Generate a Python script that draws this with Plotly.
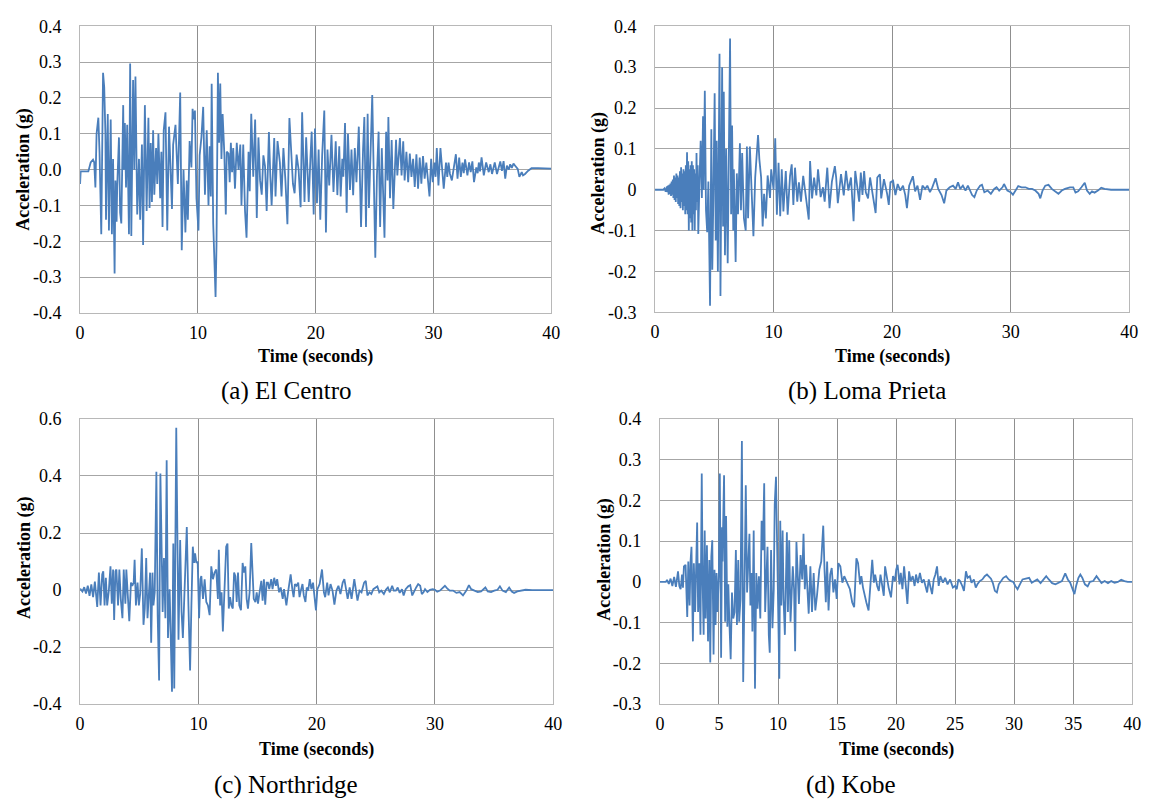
import plotly.graph_objects as go

# ---------------- data (time s, acceleration g) ----------------
elcentro = [
    (0.0, -0.04), (0.05, -0.005), (0.7, -0.005), (0.9, 0.02), (1.1, 0.028), (1.2, 0.02), (1.3, -0.05),
    (1.4, 0.1), (1.55, 0.145), (1.65, 0.05), (1.8, -0.18), (1.95, 0.27), (2.05, 0.23), (2.15, 0.1),
    (2.2, -0.14), (2.35, 0.155), (2.45, -0.17), (2.6, 0.14), (2.7, -0.18), (2.8, 0.03), (2.93, -0.29),
    (3.0, -0.03), (3.1, -0.145), (3.15, -0.05), (3.3, 0.09), (3.4, -0.12), (3.5, -0.15), (3.66, 0.18),
    (3.72, 0.0), (3.8, 0.13), (3.9, -0.05), (4.0, 0.125), (4.15, -0.18), (4.25, 0.296), (4.35, -0.185),
    (4.5, 0.25), (4.6, 0.0), (4.7, 0.26), (4.85, -0.125), (5.0, 0.03), (5.1, -0.14), (5.25, 0.07),
    (5.35, -0.21), (5.5, 0.18), (5.65, -0.115), (5.8, 0.145), (5.9, -0.107), (6.0, 0.074), (6.1, -0.09),
    (6.2, 0.11), (6.3, -0.07), (6.45, 0.06), (6.55, -0.04), (6.65, 0.1), (6.8, -0.08), (6.9, 0.05),
    (7.0, -0.16), (7.1, 0.11), (7.25, 0.16), (7.4, -0.17), (7.55, 0.12), (7.7, -0.02), (7.8, -0.11),
    (7.9, 0.07), (8.1, 0.125), (8.3, -0.04), (8.5, 0.215), (8.63, -0.225), (8.78, 0.0), (8.94, -0.175),
    (9.05, -0.03), (9.15, -0.14), (9.3, 0.08), (9.45, 0.006), (9.55, 0.17), (9.65, 0.14), (9.75, 0.165),
    (9.88, -0.08), (10.05, -0.17), (10.15, 0.04), (10.3, 0.09), (10.45, 0.175), (10.6, -0.07),
    (10.75, 0.11), (10.9, -0.1), (11.0, 0.065), (11.1, -0.075), (11.17, 0.24), (11.3, -0.15),
    (11.5, -0.355), (11.58, -0.21), (11.7, 0.27), (11.8, 0.075), (11.9, 0.24), (12.0, 0.03),
    (12.1, 0.155), (12.25, 0.04), (12.37, -0.125), (12.45, 0.05), (12.6, 0.045), (12.7, -0.035),
    (12.8, 0.075), (12.9, -0.007), (13.0, 0.06), (13.15, -0.053), (13.3, 0.075), (13.45, -0.001),
    (13.6, 0.07), (13.7, -0.1), (13.85, 0.07), (14.0, -0.115), (14.13, -0.19), (14.3, 0.05),
    (14.4, -0.06), (14.53, 0.156), (14.7, -0.02), (14.86, 0.14), (15.0, -0.135), (15.14, 0.09),
    (15.28, -0.03), (15.42, -0.07), (15.56, 0.04), (15.7, 0.01), (15.84, -0.115), (16.03, 0.105),
    (16.15, -0.02), (16.26, -0.1), (16.48, 0.088), (16.59, -0.075), (16.76, 0.08), (16.96, 0.02),
    (17.1, -0.075), (17.26, 0.06), (17.43, -0.03), (17.6, -0.152), (17.77, 0.144), (17.93, 0.03),
    (18.07, -0.04), (18.21, -0.066), (18.38, 0.042), (18.55, 0.0), (18.72, -0.105), (18.85, 0.16),
    (19.05, -0.09), (19.19, 0.09), (19.3, -0.02), (19.41, -0.09), (19.55, 0.03), (19.66, 0.106),
    (19.83, -0.125), (19.94, 0.115), (20.11, -0.094), (20.25, 0.056), (20.39, -0.14), (20.55, 0.04),
    (20.73, 0.165), (20.87, -0.175), (21.0, 0.056), (21.15, -0.044), (21.34, 0.097), (21.51, -0.062),
    (21.7, 0.079), (21.84, -0.071), (22.0, 0.065), (22.12, -0.075), (22.26, 0.03), (22.35, -0.02),
    (22.49, 0.13), (22.63, -0.12), (22.74, 0.1), (22.91, -0.057), (23.04, 0.056), (23.18, -0.071),
    (23.32, 0.06), (23.46, -0.035), (23.66, 0.12), (23.85, -0.16), (24.02, 0.056), (24.13, 0.147),
    (24.27, -0.16), (24.41, 0.156), (24.52, -0.107), (24.64, 0.011), (24.8, 0.208), (25.06, -0.246),
    (25.2, -0.016), (25.34, 0.106), (25.47, -0.16), (25.61, 0.06), (25.84, -0.19), (25.98, 0.106),
    (26.1, -0.03), (26.17, 0.147), (26.31, -0.08), (26.45, 0.083), (26.59, -0.11), (26.82, 0.083),
    (26.93, -0.016), (27.15, 0.088), (27.29, -0.016), (27.43, 0.079), (27.55, -0.03), (27.7, 0.05),
    (27.85, -0.035), (27.99, 0.045), (28.13, -0.02), (28.27, 0.03), (28.41, -0.048), (28.55, 0.043),
    (28.69, -0.053), (28.83, 0.034), (28.97, -0.039), (29.11, 0.038), (29.25, -0.025), (29.39, 0.02),
    (29.52, -0.03), (29.66, -0.075), (29.8, 0.03), (29.94, -0.035), (30.08, 0.02), (30.18, -0.02),
    (30.28, 0.06), (30.42, -0.044), (30.59, 0.06), (30.73, -0.007), (30.87, -0.053), (31.06, 0.02),
    (31.17, -0.02), (31.28, 0.02), (31.4, -0.012), (31.56, -0.03), (31.75, 0.01), (31.9, 0.043),
    (32.04, -0.025), (32.18, 0.034), (32.32, -0.02), (32.46, 0.02), (32.57, -0.01), (32.68, 0.029),
    (32.88, -0.016), (33.02, 0.02), (33.16, -0.007), (33.3, 0.023), (33.44, -0.035), (33.63, 0.006),
    (33.75, -0.01), (33.85, 0.02), (33.95, -0.005), (34.08, 0.034), (34.27, -0.016), (34.47, 0.02),
    (34.69, -0.007), (34.83, 0.015), (34.97, -0.012), (35.2, 0.02), (35.39, -0.012), (35.67, 0.023),
    (35.81, -0.003), (35.95, 0.024), (36.09, -0.025), (36.23, 0.011), (36.4, 0.0), (36.51, 0.015),
    (36.65, 0.005), (36.79, 0.017), (36.93, 0.011), (37.15, 0.002), (37.29, -0.02), (37.49, -0.007),
    (37.6, -0.016), (37.77, -0.012), (38.04, -0.003), (38.32, 0.004), (38.88, 0.004), (40.0, 0.003),
]

lomaprieta = [
    (0.0, 0.0), (0.7, 0.0), (0.8, 0.003), (0.9, -0.005), (1.0, 0.008), (1.05, -0.006), (1.1, 0.01),
    (1.15, -0.012), (1.2, 0.012), (1.25, -0.01), (1.3, 0.015), (1.35, -0.015), (1.4, 0.02),
    (1.45, -0.012), (1.5, 0.025), (1.55, -0.02), (1.6, 0.035), (1.65, -0.025), (1.7, 0.03),
    (1.75, -0.03), (1.8, 0.04), (1.85, -0.02), (1.9, 0.035), (1.95, -0.035), (2.0, 0.03),
    (2.05, -0.04), (2.1, 0.045), (2.15, -0.045), (2.2, 0.055), (2.25, -0.03), (2.3, 0.04),
    (2.35, -0.05), (2.4, 0.05), (2.45, -0.04), (2.5, 0.045), (2.55, -0.06), (2.6, 0.06),
    (2.65, -0.05), (2.7, 0.092), (2.75, -0.06), (2.8, 0.07), (2.85, -0.1), (2.9, 0.05), (2.95, -0.07),
    (3.0, 0.06), (3.05, -0.08), (3.1, 0.07), (3.15, -0.1), (3.2, 0.06), (3.25, -0.06), (3.3, 0.05),
    (3.35, -0.1), (3.4, 0.04), (3.45, -0.05), (3.5, 0.09), (3.55, -0.03), (3.6, 0.06), (3.65, -0.108),
    (3.75, 0.02), (3.85, 0.12), (3.95, -0.02),
    (4.05, 0.18), (4.1, 0.0), (4.2, 0.242), (4.3, -0.05), (4.4, -0.104), (4.5, 0.02), (4.64, -0.284),
    (4.75, 0.148), (4.83, -0.196), (4.92, -0.02), (5.03, 0.236), (5.12, -0.124), (5.2, 0.12),
    (5.3, -0.2), (5.44, 0.333), (5.52, -0.26), (5.6, 0.05), (5.66, 0.3), (5.74, -0.09), (5.8, 0.24),
    (5.9, -0.16), (6.0, 0.1), (6.13, -0.18), (6.22, 0.06), (6.33, 0.37), (6.42, -0.06), (6.5, 0.157),
    (6.6, -0.1), (6.65, 0.05), (6.8, -0.177), (6.9, 0.04), (7.0, -0.06), (7.16, 0.114), (7.25, -0.05),
    (7.35, 0.09), (7.5, -0.07), (7.65, -0.1), (7.75, 0.106), (7.85, -0.07), (8.0, 0.106), (8.1, 0.035),
    (8.3, -0.114), (8.45, 0.03), (8.6, 0.09), (8.69, 0.134), (8.8, 0.075), (8.95, 0.03), (9.08, -0.09),
    (9.2, -0.01), (9.35, -0.07), (9.5, 0.035), (9.7, -0.02), (9.8, 0.05), (10.0, 0.0), (10.14, 0.126),
    (10.28, -0.061), (10.42, 0.066), (10.56, -0.065), (10.69, 0.05), (10.83, -0.053), (11.03, 0.046),
    (11.19, -0.061), (11.39, 0.034), (11.53, 0.062), (11.67, -0.037), (11.81, 0.054), (12.0, -0.029),
    (12.14, 0.018), (12.31, -0.029), (12.5, 0.034), (12.69, -0.014), (12.83, -0.041), (12.97, -0.073),
    (13.08, 0.07), (13.25, -0.021), (13.42, 0.03), (13.61, -0.014), (13.75, 0.05), (13.97, -0.018),
    (14.17, 0.006), (14.31, -0.029), (14.53, 0.054), (14.72, -0.045), (14.92, 0.02), (15.17, 0.058),
    (15.28, 0.03), (15.42, -0.033), (15.69, 0.038), (15.92, -0.014), (16.11, 0.046), (16.31, -0.002),
    (16.53, 0.03), (16.75, -0.077), (16.89, 0.046), (17.08, -0.006), (17.22, -0.029), (17.36, 0.042),
    (17.5, -0.013), (17.64, 0.046), (17.78, -0.006), (17.97, -0.021), (18.14, 0.03), (18.33, -0.006),
    (18.47, -0.037), (18.61, -0.057), (18.75, 0.03), (18.97, 0.038), (19.08, -0.021), (19.31, 0.026),
    (19.58, -0.01), (19.72, -0.037), (19.86, 0.018), (20.08, 0.022), (20.28, -0.013), (20.47, 0.014),
    (20.69, -0.002), (20.92, 0.01), (21.11, -0.013), (21.25, -0.045), (21.44, 0.01), (21.75, 0.033),
    (21.94, -0.004), (22.14, 0.01), (22.36, -0.025), (22.56, 0.01), (22.78, 0.002), (22.97, 0.01),
    (23.19, -0.006), (23.39, 0.006), (23.67, 0.028), (23.89, 0.002), (24.17, -0.013), (24.39, -0.033),
    (24.58, -0.002), (24.86, 0.006), (25.14, 0.01), (25.36, 0.002), (25.56, 0.018), (25.75, 0.002),
    (25.97, 0.01), (26.19, -0.002), (26.39, 0.01), (26.53, 0.002), (26.75, -0.013), (26.94, -0.018),
    (27.14, -0.002), (27.42, 0.01), (27.58, 0.012), (27.78, -0.006), (28.06, -0.002), (28.33, -0.01),
    (28.61, 0.002), (28.81, 0.006), (29.03, -0.002), (29.31, 0.006), (29.44, 0.014), (29.72, -0.002),
    (30.0, -0.006), (30.19, -0.012), (30.42, -0.002), (30.64, 0.009), (30.92, 0.006), (31.25, 0.006),
    (31.53, 0.002), (31.81, 0.002), (32.08, -0.002), (32.36, -0.01), (32.5, -0.021), (32.69, -0.002),
    (32.92, 0.01), (33.19, 0.012), (33.47, 0.002), (33.75, -0.004), (34.03, -0.01), (34.31, -0.002),
    (34.58, 0.002), (35.0, 0.006), (35.28, 0.006), (35.47, -0.007), (35.69, -0.004), (35.97, 0.006),
    (36.25, 0.017), (36.44, -0.002), (36.67, -0.01), (36.86, -0.004), (37.08, -0.007), (37.36, -0.002),
    (37.64, 0.005), (37.92, 0.002), (38.47, 0.0), (40.0, 0.0),
]

northridge = [
    (0.0, 0.005), (0.2, -0.005), (0.35, 0.01), (0.5, -0.012), (0.65, 0.015), (0.8, -0.02), (0.95, 0.02),
    (1.1, -0.025), (1.25, 0.03), (1.35, -0.01), (1.45, -0.059), (1.59, 0.061), (1.73, -0.054),
    (1.87, 0.055), (1.96, 0.066), (2.07, -0.054), (2.18, 0.043), (2.29, -0.054), (2.43, -0.002),
    (2.57, 0.083), (2.68, -0.048), (2.79, 0.072), (2.88, -0.105), (2.99, 0.066), (3.07, 0.072),
    (3.21, -0.054), (3.32, 0.072), (3.44, -0.031), (3.58, -0.099), (3.69, 0.072), (3.83, -0.048),
    (3.91, 0.072), (4.02, -0.008), (4.16, -0.109), (4.3, 0.026), (4.41, 0.015), (4.53, 0.026),
    (4.61, 0.106), (4.72, -0.054), (4.86, 0.026), (4.97, -0.054), (5.08, -0.014), (5.22, 0.146),
    (5.36, -0.122), (5.47, -0.065), (5.59, 0.112), (5.7, -0.099), (5.81, -0.008), (5.92, 0.061),
    (6.01, -0.185), (6.12, 0.061), (6.2, -0.054), (6.31, -0.008), (6.45, 0.415), (6.56, -0.088),
    (6.68, -0.317), (6.79, 0.409), (6.9, 0.129), (6.98, -0.077), (7.09, 0.112), (7.21, -0.099),
    (7.32, 0.455), (7.43, -0.168), (7.57, 0.003), (7.68, -0.237), (7.77, -0.357), (7.88, 0.163),
    (7.96, -0.345), (8.13, 0.569), (8.24, 0.038), (8.32, -0.174), (8.46, 0.175), (8.58, -0.077),
    (8.69, -0.168), (8.83, -0.008), (9.02, 0.221), (9.16, -0.054), (9.3, -0.282), (9.41, -0.054),
    (9.53, 0.152), (9.64, 0.095), (9.72, 0.129), (9.83, 0.095), (9.94, 0.1), (10.06, -0.099),
    (10.17, 0.038), (10.25, 0.049), (10.39, -0.031), (10.53, 0.038), (10.67, -0.042), (10.81, -0.054),
    (10.95, -0.088), (11.09, 0.083), (11.23, 0.038), (11.37, 0.061), (11.51, 0.072), (11.65, -0.031),
    (11.73, 0.141), (11.84, -0.054), (11.96, -0.008), (12.07, -0.145), (12.21, -0.008), (12.35, 0.152),
    (12.46, 0.163), (12.57, -0.065), (12.68, -0.025), (12.79, -0.054), (12.91, -0.065), (13.02, 0.061),
    (13.13, 0.049), (13.24, -0.042), (13.35, 0.061), (13.46, -0.054), (13.6, -0.071), (13.74, 0.095),
    (13.85, 0.061), (13.97, 0.083), (14.08, -0.031), (14.19, -0.065), (14.33, -0.008), (14.47, 0.165),
    (14.68, -0.031), (14.82, -0.042), (14.93, -0.008), (15.04, -0.048), (15.15, -0.014), (15.32, 0.032),
    (15.43, -0.037), (15.54, 0.038), (15.65, -0.051), (15.77, 0.026), (15.88, 0.026), (15.99, 0.003),
    (16.16, 0.038), (16.27, 0.003), (16.41, 0.043), (16.55, 0.015), (16.66, 0.038), (16.82, -0.008),
    (16.96, 0.009), (17.13, -0.031), (17.24, 0.003), (17.44, -0.054), (17.6, -0.002), (17.8, 0.055),
    (17.94, 0.003), (18.05, -0.025), (18.16, 0.021), (18.3, 0.015), (18.44, 0.026), (18.55, -0.025),
    (18.66, -0.002), (18.8, 0.021), (18.91, -0.019), (19.05, -0.042), (19.16, 0.009), (19.28, -0.002),
    (19.42, 0.038), (19.55, 0.003), (19.69, 0.026), (19.83, -0.025), (19.94, -0.071), (20.06, 0.003),
    (20.25, 0.021), (20.45, 0.072), (20.61, -0.008), (20.72, -0.025), (20.89, 0.026), (21.0, -0.019),
    (21.17, 0.021), (21.34, -0.002), (21.5, -0.051), (21.67, -0.002), (21.84, 0.015), (22.01, -0.014),
    (22.2, 0.026), (22.34, 0.038), (22.51, -0.014), (22.62, -0.031), (22.79, 0.009), (22.95, -0.031),
    (23.18, 0.038), (23.31, -0.008), (23.45, -0.037), (23.62, -0.002), (23.79, -0.008), (24.01, 0.026),
    (24.15, 0.032), (24.29, -0.019), (24.46, -0.008), (24.62, -0.014), (24.79, 0.003), (24.99, 0.009),
    (25.13, 0.013), (25.29, -0.008), (25.46, -0.002), (25.68, -0.014), (25.85, 0.001), (26.02, 0.009),
    (26.18, -0.008), (26.38, 0.015), (26.52, -0.002), (26.69, -0.002), (26.85, 0.009), (27.02, -0.01),
    (27.21, 0.003), (27.35, -0.019), (27.52, 0.003), (27.74, 0.013), (27.91, 0.017), (28.08, -0.019),
    (28.25, -0.002), (28.41, 0.009), (28.58, 0.021), (28.75, 0.015), (28.89, -0.014), (29.03, -0.008),
    (29.16, 0.003), (29.36, -0.007), (29.58, 0.001), (29.81, 0.003), (30.0, 0.001), (30.19, -0.006),
    (30.42, -0.002), (30.64, 0.009), (30.84, 0.015), (31.03, 0.006), (31.25, -0.002), (31.53, -0.002),
    (31.81, -0.01), (32.09, -0.007), (32.37, -0.019), (32.65, -0.002), (32.87, 0.017), (33.06, 0.003),
    (33.34, -0.002), (33.62, -0.007), (33.9, -0.005), (34.26, 0.009), (34.46, -0.005), (34.74, -0.007),
    (35.01, -0.002), (35.29, 0.001), (35.49, 0.013), (35.71, -0.002), (35.99, -0.007), (36.27, 0.009),
    (36.49, -0.005), (36.69, -0.01), (36.96, -0.005), (37.24, -0.002), (37.66, 0.001), (38.22, 0.0),
    (38.77, 0.0), (40.0, 0.0),
]

kobe = [
    (0.0, 0.0), (0.5, 0.0), (0.6, 0.005), (0.75, -0.005), (0.9, 0.008), (1.05, -0.01), (1.2, 0.012),
    (1.35, -0.012), (1.53, 0.026), (1.64, -0.01), (1.75, -0.018), (1.87, 0.018), (1.95, -0.014),
    (2.03, 0.038), (2.17, 0.042), (2.31, -0.086), (2.4, 0.05), (2.51, -0.058), (2.59, 0.05),
    (2.67, 0.086), (2.79, -0.146), (2.87, 0.046), (2.98, -0.074), (3.06, 0.054), (3.15, 0.146),
    (3.23, -0.074), (3.34, 0.046), (3.43, -0.13), (3.54, 0.266), (3.62, -0.01), (3.7, -0.13),
    (3.79, 0.126), (3.87, -0.09), (3.98, 0.09), (4.07, -0.146), (4.18, 0.054), (4.26, -0.198),
    (4.35, 0.062), (4.43, 0.102), (4.54, -0.178), (4.62, 0.03), (4.71, -0.106), (4.79, 0.022),
    (4.87, -0.074), (4.99, 0.022), (5.07, 0.266), (5.18, -0.186), (5.26, 0.134), (5.3, 0.05),
    (5.35, 0.138), (5.43, 0.262), (5.52, -0.098), (5.6, 0.162), (5.71, -0.11), (5.79, -0.006),
    (5.88, -0.098), (5.99, -0.19), (6.1, -0.026), (6.21, -0.09), (6.32, -0.074), (6.43, 0.078),
    (6.52, -0.106), (6.63, 0.054), (6.71, -0.098), (6.82, -0.042), (6.94, 0.346), (7.05, -0.246),
    (7.16, -0.022), (7.27, 0.237), (7.38, -0.026), (7.47, 0.038), (7.58, 0.118), (7.66, -0.058),
    (7.77, 0.022), (7.83, -0.122), (7.94, 0.126), (8.05, -0.262), (8.16, 0.022), (8.27, -0.066),
    (8.38, 0.014), (8.5, -0.09), (8.61, 0.15), (8.72, 0.078), (8.83, 0.242), (8.91, -0.074),
    (9.03, 0.006), (9.11, 0.086), (9.22, -0.13), (9.3, -0.174), (9.41, 0.078), (9.53, -0.114),
    (9.64, -0.018), (9.72, 0.19), (9.83, 0.258), (9.94, 0.018), (10.03, -0.042), (10.11, -0.238),
    (10.19, 0.15), (10.28, -0.058), (10.39, 0.126), (10.47, -0.042), (10.58, -0.13), (10.67, 0.022),
    (10.75, 0.122), (10.84, -0.074), (10.95, 0.102), (11.06, -0.098), (11.17, -0.026), (11.25, 0.038),
    (11.36, -0.018), (11.45, -0.17), (11.56, 0.098), (11.77, -0.054), (11.91, 0.066), (12.05, 0.006),
    (12.16, 0.118), (12.27, -0.018), (12.38, 0.042), (12.49, -0.034), (12.6, -0.078), (12.74, 0.038),
    (12.88, -0.074), (13.02, 0.022), (13.16, -0.07), (13.3, -0.034), (13.5, 0.03), (13.66, 0.05),
    (13.83, 0.138), (13.94, 0.03), (14.05, -0.05), (14.16, 0.05), (14.28, -0.07), (14.42, 0.018),
    (14.55, 0.034), (14.69, -0.026), (14.83, 0.006), (14.97, -0.042), (15.11, 0.046), (15.28, 0.038),
    (15.45, -0.002), (15.61, 0.014), (15.89, -0.006), (16.09, -0.018), (16.28, -0.05), (16.45, -0.062),
    (16.64, 0.058), (16.78, 0.046), (16.95, -0.006), (17.06, 0.014), (17.2, -0.014), (17.34, -0.034),
    (17.48, -0.05), (17.67, -0.07), (17.84, 0.014), (17.98, 0.054), (18.12, -0.002), (18.23, 0.018),
    (18.4, -0.01), (18.54, -0.022), (18.68, 0.018), (18.96, -0.034), (19.07, 0.038), (19.23, 0.006),
    (19.37, -0.014), (19.57, -0.038), (19.74, 0.014), (19.9, 0.002), (20.01, 0.03), (20.13, 0.042),
    (20.29, -0.006), (20.4, 0.022), (20.54, -0.018), (20.68, 0.038), (20.82, -0.01), (20.96, -0.054),
    (21.1, 0.026), (21.24, 0.002), (21.41, 0.014), (21.57, -0.01), (21.69, 0.018), (21.85, -0.003),
    (22.02, 0.022), (22.19, -0.002), (22.35, 0.006), (22.49, -0.014), (22.63, -0.026), (22.77, 0.006),
    (22.91, -0.01), (23.05, -0.03), (23.19, 0.006), (23.33, 0.018), (23.47, 0.038), (23.61, -0.01),
    (23.75, 0.014), (23.97, -0.002), (24.16, 0.01), (24.36, -0.006), (24.58, 0.006), (24.81, -0.014),
    (25.0, -0.01), (25.14, -0.018), (25.28, 0.006), (25.42, 0.002), (25.61, -0.01), (25.75, -0.022),
    (25.92, 0.026), (26.06, 0.01), (26.25, 0.014), (26.39, -0.002), (26.59, 0.006), (26.75, -0.014),
    (26.89, -0.006), (27.09, 0.002), (27.31, 0.006), (27.51, 0.014), (27.7, 0.018), (27.87, 0.013),
    (28.04, 0.008), (28.2, -0.003), (28.37, -0.022), (28.54, -0.026), (28.7, -0.006), (28.9, 0.002),
    (29.09, 0.01), (29.32, 0.014), (29.54, 0.006), (29.74, 0.002), (29.93, 0.0), (30.1, -0.01),
    (30.29, -0.018), (30.49, -0.006), (30.71, 0.006), (30.99, 0.008), (31.27, 0.01), (31.49, -0.002),
    (31.69, 0.002), (31.96, 0.006), (32.24, -0.003), (32.52, 0.008), (32.72, 0.014), (32.94, 0.006),
    (33.22, -0.003), (33.5, -0.006), (33.77, -0.003), (34.05, 0.002), (34.33, 0.021), (34.55, 0.006),
    (34.75, -0.002), (34.97, -0.018), (35.11, -0.03), (35.25, -0.01), (35.45, 0.01), (35.61, 0.018),
    (35.78, 0.01), (36.0, -0.006), (36.23, -0.011), (36.42, 0.0), (36.7, 0.002), (36.98, 0.014),
    (37.17, 0.006), (37.4, -0.003), (37.67, 0.002), (37.95, -0.003), (38.23, 0.002), (38.51, -0.002),
    (38.79, 0.0), (39.07, 0.005), (39.35, 0.002), (39.62, 0.0), (40.0, 0.0),
]

captions = ["(a) El Centro", "(b) Loma Prieta", "(c) Northridge", "(d) Kobe"]
x_title = "Time (seconds)"
y_title = "Acceleration (g)"

xticks_10 = [0, 10, 20, 30, 40]
xticks_5 = [0, 5, 10, 15, 20, 25, 30, 35, 40]
yticks_a = [-0.4, -0.3, -0.2, -0.1, 0.0, 0.1, 0.2, 0.3, 0.4]
ylabels_a = ["-0.4", "-0.3", "-0.2", "-0.1", "0.0", "0.1", "0.2", "0.3", "0.4"]
yticks_b = [-0.3, -0.2, -0.1, 0.0, 0.1, 0.2, 0.3, 0.4]
ylabels_b = ["-0.3", "-0.2", "-0.1", "0", "0.1", "0.2", "0.3", "0.4"]
yticks_c = [-0.4, -0.2, 0.0, 0.2, 0.4, 0.6]
ylabels_c = ["-0.4", "-0.2", "0", "0.2", "0.4", "0.6"]
yticks_d = yticks_b
ylabels_d = ylabels_b

# ---------------- figure ----------------
W, H = 1155, 809
LINE = "#4A7EBB"
FONT = "'Liberation Serif', 'Times New Roman', Times, 'DejaVu Serif', serif"

panels = [
    (elcentro, (76, 553), (16.7, 310.7), xticks_10, yticks_a, ylabels_a, (-0.4, 0.4)),
    (lomaprieta, (658, 1138), (16.7, 310.0), xticks_10, yticks_b, ylabels_b, (-0.3, 0.4)),
    (northridge, (76, 555), (419.3, 711.7), xticks_10, yticks_c, ylabels_c, (-0.4, 0.6)),
    (kobe, (663, 1141), (419.3, 711.7), xticks_5, yticks_d, ylabels_d, (-0.3, 0.4)),
]

fig = go.Figure()
layout_axes = {}
for i, (data, (x0, x1), (yt, yb), xt, yv, yl, yr) in enumerate(panels, start=1):
    sx = "" if i == 1 else str(i)
    t = [p[0] for p in data]
    a = [p[1] for p in data]
    fig.add_trace(go.Scatter(x=t, y=a, mode="lines", xaxis="x" + sx, yaxis="y" + sx,
                             line=dict(color=LINE, width=1.8), hoverinfo="skip"))
    layout_axes["xaxis" + sx] = dict(
        domain=[x0 / W, x1 / W], anchor="y" + sx, range=[0, 40],
        tickmode="array", tickvals=xt, ticktext=[str(v) for v in xt],
        showgrid=True, gridcolor="#8f8f8f", gridwidth=1, zeroline=False,
        showline=True, linecolor="#b8b8b8", linewidth=1, mirror=True,
        ticks="", tickfont=dict(family=FONT, size=18, color="black"),
        ticklabelstandoff=3, fixedrange=True,
    )
    layout_axes["yaxis" + sx] = dict(
        domain=[1 - yb / H, 1 - yt / H], anchor="x" + sx, range=list(yr),
        tickmode="array", tickvals=yv, ticktext=yl,
        showgrid=True, gridcolor="#a6a6a6", gridwidth=1, zeroline=False,
        showline=True, linecolor="#b8b8b8", linewidth=1, mirror=True,
        ticks="", tickfont=dict(family=FONT, size=18, color="black"),
        ticklabelstandoff=14, fixedrange=True,
    )

annotations = []
xtitle_pos = [(314.5, 355), (898, 355), (315.5, 758), (902, 758)]
ytitle_pos = [(19, 164), (601, 168), (19, 562), (606, 564)]
caption_pos = [(285, 391), (873, 391), (284, 795), (856, 795)]
for i in range(4):
    xp, yp = xtitle_pos[i]
    annotations.append(dict(text="<b>" + x_title + "</b>", x=xp / W, y=1 - yp / H, xref="paper", yref="paper",
                            xanchor="center", yanchor="middle", showarrow=False,
                            font=dict(family=FONT, size=18, color="black")))
    xp, yp = ytitle_pos[i]
    annotations.append(dict(text="<b>" + y_title + "</b>", x=xp / W, y=1 - yp / H, xref="paper", yref="paper",
                            xanchor="center", yanchor="middle", showarrow=False, textangle=-90,
                            font=dict(family=FONT, size=18, color="black")))
    xp, yp = caption_pos[i]
    annotations.append(dict(text=captions[i], x=xp / W, y=1 - yp / H, xref="paper", yref="paper",
                            xanchor="center", yanchor="middle", showarrow=False,
                            font=dict(family=FONT, size=25, color="black")))

fig.update_layout(
    width=W, height=H, margin=dict(l=0, r=0, t=0, b=0),
    paper_bgcolor="white", plot_bgcolor="white", showlegend=False,
    font=dict(family=FONT, color="black"),
    annotations=annotations, **layout_axes,
)

fig.write_html("out.html", config={"displayModeBar": False})
